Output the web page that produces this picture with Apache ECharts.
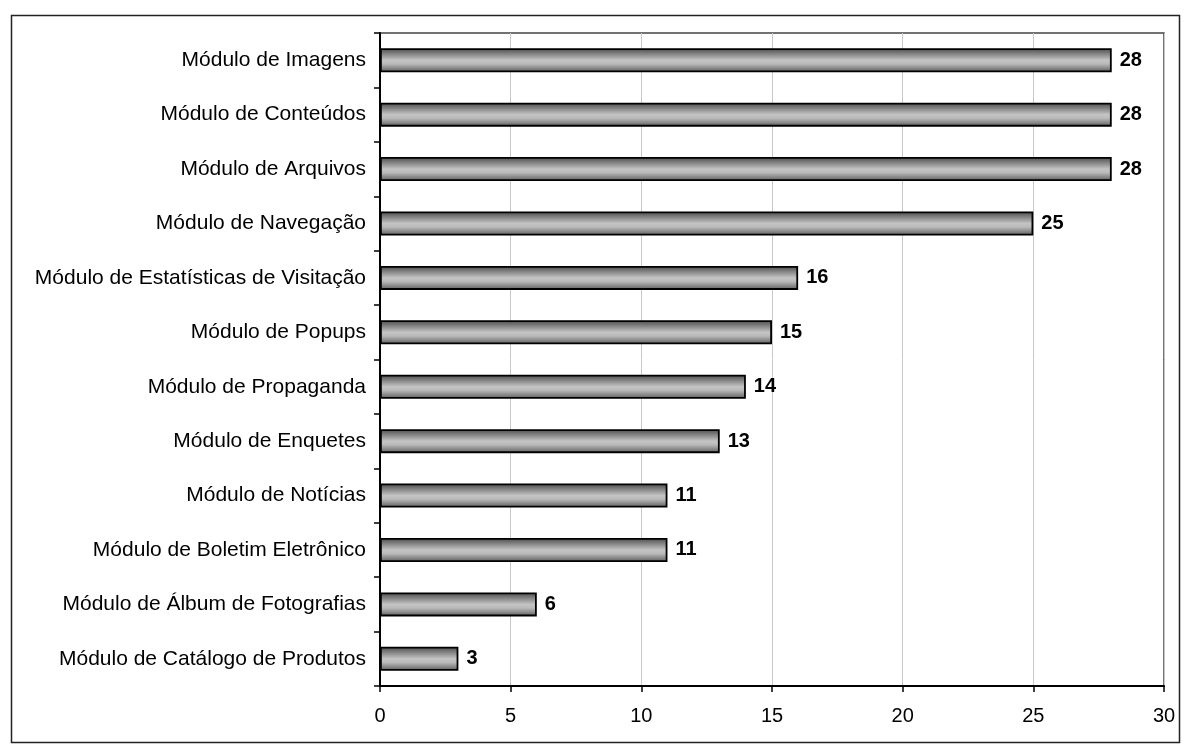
<!DOCTYPE html>
<html><head><meta charset="utf-8">
<script src="https://cdn.jsdelivr.net/npm/echarts@6/dist/echarts.min.js"></script>
<style>html,body{margin:0;padding:0;background:#fff}#c{width:1185px;height:751px}</style>
</head><body><div id="c"></div>
<script>
const categories = [
  "Módulo de Imagens",
  "Módulo de Conteúdos",
  "Módulo de Arquivos",
  "Módulo de Navegação",
  "Módulo de Estatísticas de Visitação",
  "Módulo de Popups",
  "Módulo de Propaganda",
  "Módulo de Enquetes",
  "Módulo de Notícias",
  "Módulo de Boletim Eletrônico",
  "Módulo de Álbum de Fotografias",
  "Módulo de Catálogo de Produtos"
];
const values = [28, 28, 28, 25, 16, 15, 14, 13, 11, 11, 6, 3];
const xTicks = [0, 5, 10, 15, 20, 25, 30];

const chart = echarts.init(document.getElementById('c'), null, {renderer: 'canvas'});
const font = '"Liberation Sans", Arial, sans-serif';
chart.setOption({
  animation: false,
  backgroundColor: '#fff',
  graphic: [{
    type: 'rect', left: 9, top: 13, z: -1,
    shape: {width: 1168, height: 727},
    style: {fill: 'none', stroke: '#222', lineWidth: 1.5}
  }],
  grid: {left: 380, right: 21, top: 33, bottom: 65, show: true, borderColor: '#444', borderWidth: 1.5, backgroundColor: 'transparent'},
  xAxis: {
    type: 'value', min: xTicks[0], max: xTicks[xTicks.length - 1], interval: 5,
    axisLine: {show: true, lineStyle: {color: '#000', width: 2}},
    axisTick: {show: true, length: 6, lineStyle: {color: '#000', width: 1.5}},
    axisLabel: {color: '#000', fontSize: 20, fontFamily: font, margin: 20},
    splitLine: {show: true, lineStyle: {color: '#c8c8c8', width: 1}}
  },
  yAxis: {
    type: 'category', data: categories, inverse: true,
    axisLine: {show: true, lineStyle: {color: '#000', width: 2}},
    axisTick: {show: true, length: 6, lineStyle: {color: '#000', width: 1.5}},
    axisLabel: {color: '#000', fontSize: 21, fontFamily: font, margin: 14},
    splitLine: {show: false}
  },
  series: [{
    type: 'bar', data: values, barWidth: 24,
    itemStyle: {
      borderColor: '#000', borderWidth: 1.8,
      color: {type: 'linear', x: 0, y: 0, x2: 0, y2: 1, colorStops: [
        {offset: 0, color: '#4a4a4a'},
        {offset: 0.5, color: '#c4c4c4'},
        {offset: 0.65, color: '#bababa'},
        {offset: 1, color: '#5c5c5c'}
      ]}
    },
    label: {show: true, position: 'right', distance: 8, color: '#000', fontSize: 20, fontWeight: 'bold', fontFamily: font}
  }]
});
</script></body></html>
